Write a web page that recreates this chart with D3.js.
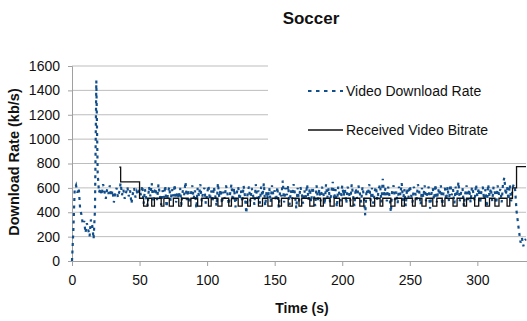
<!DOCTYPE html>
<html>
<head>
<meta charset="utf-8">
<script src="https://cdn.jsdelivr.net/npm/d3@7"></script>
<style>
  body { margin: 0; background: #fff; }
  #chart { width: 527px; height: 321px; }
  text { font-family: "Liberation Sans", Arial, sans-serif; fill: #111; }
</style>
</head>
<body>
<div id="chart"></div>
<script>
// download rate, one sample per second starting at t = 0 (kb/s)
const downloadRate = [
  0, 250, 590, 620, 560, 600, 430, 380, 300, 330, 230, 310, 260, 200, 340, 290, 180, 420, 1480, 720, 560,
  600, 540, 630, 570, 510, 590, 550, 620, 530, 580, 480, 560, 600, 520, 570, 640, 540, 590, 510, 560,
  610, 530, 580, 470, 550, 600, 520, 570, 540, 590,
  540, 620, 470, 590, 510, 450, 610, 530, 640, 480, 570, 600, 500, 630, 540, 460, 580, 520, 620, 440, 560, 610, 490, 590, 530,
  630, 480, 570, 510, 600, 460, 580, 540, 650, 500, 590, 470, 550, 620, 510, 580, 430, 600, 530, 630, 490, 570, 600, 470, 550,
  620, 500, 580, 480, 610, 540, 450, 640, 520, 590, 470, 570, 510, 620, 560, 460, 550, 630, 490, 600, 440, 560, 610, 500, 580,
  480, 620, 530, 390, 570, 610, 490, 600, 540, 460, 630, 510, 580, 470, 610, 530, 640, 450, 570, 510, 600, 480, 620, 540, 580,
  490, 610, 440, 570, 530, 660, 480, 600, 540, 620, 460, 580, 510, 630, 550, 430, 600, 490, 610, 560, 470, 580, 520, 630, 500,
  600, 480, 610, 540, 450, 620, 500, 590, 490, 610, 560, 460, 630, 520, 600, 480, 570, 650, 500, 590, 440, 610, 540, 490, 620,
  530, 590, 470, 610, 560, 490, 630, 540, 450, 600, 510, 620, 560, 480, 610, 530, 375, 590, 540, 630, 490, 600, 470, 570, 610,
  500, 590, 630, 480, 675, 540, 600, 490, 610, 530, 400, 590, 620, 500, 570, 470, 610, 540, 640, 490, 590, 450, 600, 520, 620,
  540, 480, 610, 560, 500, 630, 570, 460, 600, 520, 620, 490, 570, 610, 430, 550, 600, 500, 630, 480, 590, 540, 620, 460, 570,
  600, 500, 610, 490, 630, 540, 590, 470, 610, 530, 650, 490, 570, 600, 450, 550, 620, 500, 590, 480, 610, 560, 490, 630, 530,
  600, 470, 570, 610, 500, 590, 440, 630, 530, 600, 490, 610, 560, 470, 620, 540, 590, 480, 640, 685, 540, 610, 500, 630, 490,
  600, 630, 580, 410, 320, 230, 150, 190, 120, 170, 180
];

// received video bitrate: step changes (time s, kb/s)
const bitrateTimes = [
  35, 36, 50, 53, 56, 59, 61, 66, 68, 72, 75, 79, 81, 86, 88, 93, 96, 101, 103, 108,
  111, 116, 118, 123, 126, 130, 132, 138, 141, 145, 148, 153, 155, 160, 163, 168, 170, 176, 179, 184,
  186, 191, 194, 198, 200, 206, 208, 213, 216, 221, 224, 228, 230, 236, 239, 244, 246, 252, 254, 259,
  262, 267, 270, 274, 276, 282, 285, 290, 292, 298, 301, 306, 309, 313, 316, 322, 324, 326, 329, 336
];
const bitrateValues = [
  770, 650, 515, 450, 515, 450, 515, 450, 515, 450, 515, 450, 515, 450, 515, 450, 515, 450, 515, 450,
  515, 450, 515, 450, 515, 450, 515, 450, 515, 450, 515, 450, 515, 450, 515, 450, 515, 450, 515, 450,
  515, 450, 515, 450, 515, 450, 515, 450, 515, 450, 515, 450, 515, 450, 515, 450, 515, 450, 515, 450,
  515, 450, 515, 450, 515, 450, 515, 450, 515, 450, 515, 450, 515, 450, 515, 450, 515, 600, 775, 775
];

const xTicks = [0, 50, 100, 150, 200, 250, 300];
const yTicks = [0, 200, 400, 600, 800, 1000, 1200, 1400, 1600];
const seriesNames = ['Video Download Rate', 'Received Video Bitrate'];

const width = 527;
const height = 321;
const plot = { left: 72, right: 526, top: 66, bottom: 261 };
const blue = '#114e8c';
const gridColor = '#bdbdbd';

const svg = d3.select('#chart')
  .append('svg')
  .attr('width', width)
  .attr('height', height);

const x = d3.scaleLinear().domain([0, 336]).range([plot.left, plot.right]);
const y = d3.scaleLinear().domain([0, 1600]).range([plot.bottom, plot.top]);

// gridlines
svg.append('g')
  .selectAll('line')
  .data(yTicks.filter(d => d > 0))
  .enter()
  .append('line')
  .attr('x1', plot.left)
  .attr('x2', plot.right)
  .attr('y1', d => y(d))
  .attr('y2', d => y(d))
  .attr('stroke', gridColor)
  .attr('stroke-width', 1);

// y axis
const yAxis = d3.axisLeft(y).tickValues(yTicks).tickFormat(d3.format('d')).tickSize(4).tickPadding(8);
const gy = svg.append('g')
  .attr('transform', `translate(${plot.left}, 0)`)
  .call(yAxis);
gy.select('.domain').attr('stroke', '#a0a0a0');
gy.selectAll('.tick line').attr('stroke', '#a0a0a0');
gy.selectAll('.tick text')
  .style('font-size', '14px')
  .attr('fill', '#111');

// x axis
const xAxis = d3.axisBottom(x).tickValues(xTicks).tickSize(5).tickPadding(9).tickSizeOuter(0);
const gx = svg.append('g')
  .attr('transform', `translate(0, ${plot.bottom})`)
  .call(xAxis);
gx.select('.domain').attr('stroke', '#a0a0a0').attr('d', `M${plot.left},0.5H${width}`);
gx.selectAll('.tick line').attr('stroke', '#a0a0a0');
gx.selectAll('.tick text')
  .style('font-size', '14px')
  .attr('fill', '#111');

// download rate, dashed line
const rateLine = d3.line()
  .x((d, i) => x(i))
  .y(d => y(d));

svg.append('path')
  .datum(downloadRate)
  .attr('d', rateLine)
  .attr('fill', 'none')
  .attr('stroke', blue)
  .attr('stroke-width', 2.2)
  .attr('stroke-dasharray', '3,4.5');

// bitrate step line
const bitrate = bitrateTimes.map((t, i) => ({ t, v: bitrateValues[i] }));
const stepLine = d3.line()
  .curve(d3.curveStepAfter)
  .x(d => x(d.t))
  .y(d => y(d.v));

svg.append('path')
  .datum(bitrate)
  .attr('d', stepLine)
  .attr('fill', 'none')
  .attr('stroke', '#111')
  .attr('stroke-width', 1.3);

// legend box
svg.append('rect')
  .attr('x', 268)
  .attr('y', 62)
  .attr('width', width - 268)
  .attr('height', 88)
  .attr('fill', '#fff');

const legend = svg.append('g');
legend.append('line')
  .attr('x1', 308).attr('x2', 343)
  .attr('y1', 91).attr('y2', 91)
  .attr('stroke', blue)
  .attr('stroke-width', 2.2)
  .attr('stroke-dasharray', '3.5,4.5');
legend.append('line')
  .attr('x1', 308).attr('x2', 343)
  .attr('y1', 130).attr('y2', 130)
  .attr('stroke', '#111')
  .attr('stroke-width', 1.3);
legend.selectAll('text')
  .data(seriesNames)
  .enter()
  .append('text')
  .attr('x', 346)
  .attr('y', (d, i) => 96 + i * 39)
  .style('font-size', '14px')
  .text(d => d);

// title
svg.append('text')
  .attr('x', 311)
  .attr('y', 24)
  .attr('text-anchor', 'middle')
  .style('font-size', '17px')
  .style('font-weight', 'bold')
  .text('Soccer');

// axis titles
svg.append('text')
  .attr('x', 302)
  .attr('y', 313)
  .attr('text-anchor', 'middle')
  .style('font-size', '14px')
  .style('font-weight', 'bold')
  .text('Time (s)');

svg.append('text')
  .attr('transform', 'translate(19, 162) rotate(-90)')
  .attr('text-anchor', 'middle')
  .style('font-size', '14.5px')
  .style('font-weight', 'bold')
  .text('Download Rate (kb/s)');
</script>
</body>
</html>
